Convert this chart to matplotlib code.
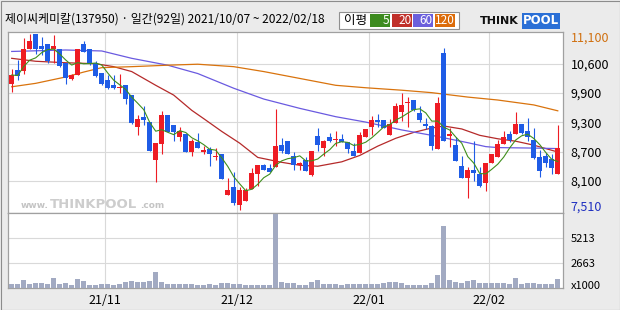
import numpy as np
import pandas as pd
import matplotlib
matplotlib.use('Agg')
import matplotlib.pyplot as plt
from matplotlib.patches import Rectangle

plt.rcParams['font.family'] = ['Noto Sans CJK KR', 'DejaVu Sans']

W, H = 620, 310

title = '제이씨케미칼(137950) · 일간(92일) 2021/10/07 ~ 2022/02/18'

# daily candles, 2021/10/07 .. 2022/02/18 (92 trading days)
opens = [10080, 10370, 10360, 10810, 11100, 10860, 10910, 10800, 10810, 10510,
         10190, 10280, 10910, 10810, 10510, 10310, 10170, 10060, 10000, 10060,
         9870, 9210, 9420, 9310, 8530, 8860, 9450, 9250, 9010, 9060,
         8700, 8900, 8710, 8770, 8600, 8650, 7830, 7990, 7630, 7700,
         7940, 8260, 8430, 8380, 8390, 8850, 8920, 8610, 8430, 8530,
         8230, 9020, 8790, 9000, 8950, 8960, 8900, 8720, 8670, 9010,
         9200, 9360, 9350, 9040, 9300, 9520, 9700, 9760, 9500, 9280,
         9230, 8770, 10720, 9020, 8850, 8410, 8180, 8330, 8260, 8070,
         8480, 8600, 8860, 9060, 9060, 9280, 9120, 8950, 8600, 8610,
         8550, 8250]
highs = [10400, 10570, 11020, 11100, 11100, 11050, 10910, 11080, 10810, 10510,
         10300, 10810, 10960, 10810, 10550, 10310, 10270, 10270, 10300, 10060,
         9870, 9450, 9640, 9310, 8880, 9530, 9450, 9250, 9210, 9060,
         8970, 9090, 8820, 8800, 8790, 8650, 8170, 8290, 7990, 7970,
         8380, 8440, 8460, 8460, 9570, 8980, 8920, 8700, 8500, 8590,
         8730, 9190, 8950, 9080, 9120, 9060, 8900, 8890, 9110, 9170,
         9430, 9470, 9360, 9380, 9700, 9910, 9820, 9760, 9630, 9400,
         9250, 9820, 10820, 9180, 9000, 8610, 8390, 8920, 8390, 8480,
         8650, 8940, 9130, 9120, 9510, 9280, 9400, 9180, 8740, 8690,
         8650, 9250]
lows = [9930, 10170, 10300, 10810, 10690, 10680, 10510, 10510, 10440, 10080,
        10170, 10280, 10740, 10470, 10230, 10060, 9980, 9980, 9910, 9680,
        9280, 9040, 9250, 8720, 8090, 8650, 9110, 8930, 8930, 8700,
        8610, 8790, 8650, 8420, 8530, 8140, 7830, 7610, 7510, 7700,
        7940, 8000, 8330, 8290, 8390, 8670, 8650, 8330, 8330, 8310,
        8210, 8730, 8620, 8900, 8820, 8900, 8670, 8620, 8670, 9010,
        9040, 9210, 9180, 9040, 9300, 9330, 9200, 9540, 9310, 9160,
        8750, 8770, 8930, 8800, 8520, 8180, 7770, 8110, 7990, 7900,
        8480, 8600, 8860, 8900, 9060, 9060, 8930, 8550, 8190, 8390,
        8250, 8250]
closes = [10270, 10250, 10810, 10960, 10810, 10800, 10560, 10860, 10460, 10200,
          10280, 10810, 10740, 10490, 10250, 10080, 10000, 10000, 10020, 9780,
          9290, 9380, 9350, 8720, 8880, 9450, 9110, 9110, 9120, 8700,
          8920, 8790, 8720, 8650, 8610, 8140, 7920, 7660, 7920, 7920,
          8280, 8430, 8330, 8290, 8820, 8730, 8650, 8430, 8480, 8310,
          8730, 8840, 8930, 8930, 8950, 8900, 8770, 8620, 9040, 9170,
          9350, 9310, 9190, 9270, 9640, 9660, 9700, 9550, 9350, 9230,
          8820, 9700, 8930, 9060, 8520, 8180, 8340, 8270, 8000, 8480,
          8650, 8860, 9000, 8940, 9280, 9080, 9010, 8570, 8310, 8480,
          8380, 8790]
# volume, x1000 shares
volumes = [420, 420, 840, 420, 520, 520, 420, 1050, 420, 520,
           310, 940, 730, 310, 310, 420, 420, 310, 420, 590,
           730, 660, 590, 730, 1670, 630, 420, 420, 420, 420,
           420, 310, 310, 420, 310, 520, 520, 420, 420, 310,
           310, 310, 310, 310, 7730, 630, 520, 520, 310, 310,
           660, 840, 420, 420, 420, 310, 420, 420, 420, 420,
           420, 420, 520, 630, 630, 520, 310, 310, 310, 310,
           520, 1360, 6480, 840, 630, 520, 730, 840, 520, 520,
           520, 520, 520, 420, 1050, 420, 520, 520, 420, 420,
           420, 940]

# moving averages
ma20_idx = [0, 4, 9, 14, 17, 20, 24, 27, 30, 32, 35, 38, 41, 43, 45, 48, 51, 55,
            58, 61, 64, 67, 70, 72, 75, 78, 81, 84, 87, 91]
ma20_val = [10610, 10550, 10520, 10500, 10440, 10340, 10060, 9860, 9550, 9380,
            9120, 8880, 8590, 8540, 8490, 8430, 8410, 8500, 8630, 8820,
            8980, 9100, 9190, 9230, 9170, 9040, 8970, 8920, 8840, 8700]
ma60_idx = [0, 9, 15, 20, 26, 31, 37, 42, 48, 54, 59, 65, 70, 76, 79, 81, 87, 91]
ma60_val = [10750, 10780, 10760, 10610, 10470, 10300, 10000, 9780, 9590, 9420,
            9310, 9150, 9040, 8890, 8810, 8790, 8780, 8770]
ma120_idx = [0, 4, 9, 12, 15, 20, 26, 31, 37, 42, 48, 54, 59, 65, 70, 76, 81, 87, 91]
ma120_val = [10030, 10100, 10230, 10330, 10420, 10440, 10470, 10490, 10440, 10340,
             10200, 10060, 10010, 9960, 9910, 9820, 9760, 9660, 9540]

month_starts = [16, 38, 60, 80]
month_labels = ['21/11', '21/12', '22/01', '22/02']
price_ticks = [8108, 8707, 9305, 9903, 10502]
price_labels = ['8,100', '8,700', '9,300', '9,900', '10,600']
vol_ticks = [2663, 5213]
vol_labels = ['2663', '5213']

legend_labels = ['5', '20', '60', '120']
legend_colors = ['#3d8b1f', '#c0302a', '#6b5fdc', '#dc6c0a']
ma_colors = ['#3f8f1c', '#b52a2a', '#6a5ae0', '#d9730d']
up_col = '#ee1c24'
dn_col = '#1f5ce6'
grid_col = '#d9d9d9'
frame_col = '#a0a0a0'

n = len(closes)
x = np.arange(n)
ma5 = pd.Series(closes).rolling(5, min_periods=1).mean()


def px_rect(x0, y0, x1, y1):
    return [x0 / W, 1 - y1 / H, (x1 - x0) / W, (y1 - y0) / H]


fig = plt.figure(figsize=(W / 100, H / 100), dpi=100, facecolor='#ebebeb')
fig.patches.append(Rectangle((0.5 / W, 0.5 / H), 1 - 1 / W, 1 - 1 / H, transform=fig.transFigure,
                             fill=False, ec='#8c8c8c', lw=0.8))

ax = fig.add_axes(px_rect(7.5, 32, 563, 212.5))
vax = fig.add_axes(px_rect(7.5, 212.5, 563, 288), sharex=ax)

# candles
for i in range(n):
    o, h, l, c = opens[i], highs[i], lows[i], closes[i]
    col = up_col if c >= o else dn_col
    ax.vlines(i, l, h, color=col, lw=0.8, zorder=3)
    ax.bar(i, max(abs(c - o), 22), bottom=min(o, c), width=0.8, color=col, lw=0, zorder=3)

ax.plot(x, ma5, color=ma_colors[0], lw=0.8, zorder=4)
ax.plot(ma20_idx, ma20_val, color=ma_colors[1], lw=0.9, zorder=2)
ax.plot(ma60_idx, ma60_val, color=ma_colors[2], lw=0.9, zorder=2)
ax.plot(ma120_idx, ma120_val, color=ma_colors[3], lw=0.9, zorder=2)

lo, hi = min(lows), max(highs)
span = hi - lo
ax.set_ylim(lo - 0.012 * span, hi + 0.013 * span)
ax.set_xlim(-0.7, n - 0.13)

ax.set_yticks(price_ticks)
ax.set_yticklabels(price_labels)
ax.yaxis.tick_right()
ax.tick_params(axis='y', length=0, pad=5.5, labelsize=9)
ax.tick_params(axis='x', length=0, labelbottom=False)
ax.set_xticks([m - 0.5 for m in month_starts])
ax.grid(True, color=grid_col, lw=0.8, zorder=0)

ax.annotate(f'{hi:,}', xy=(1, hi), xycoords=('axes fraction', 'data'), xytext=(7.5, -4),
            textcoords='offset pixels', ha='left', va='center', fontsize=9, color='#d07010')
ax.annotate(f'{lo:,}', xy=(1, lo), xycoords=('axes fraction', 'data'), xytext=(7.5, 3),
            textcoords='offset pixels', ha='left', va='center', fontsize=9, color='#1f2fc0')

# watermark
fig.text(21 / W, 1 - 206 / H, 'www.', fontsize=6.5, color='#c4c4c4', va='center', fontweight='bold',
         family='DejaVu Sans')
fig.text(50 / W, 1 - 204 / H, 'THINKPOOL', fontsize=9.5, color='#cdcdcd', va='center', fontweight='bold',
         family='DejaVu Sans')
fig.text(140 / W, 1 - 206 / H, '.com', fontsize=6.5, color='#c4c4c4', va='center', fontweight='bold',
         family='DejaVu Sans')

# volume
vax.bar(x, volumes, width=0.82, color='#a2aac2', lw=0, zorder=3)
vax.set_ylim(0, 7890)
vax.set_yticks(vol_ticks)
vax.set_yticklabels(vol_labels)
vax.yaxis.tick_right()
vax.tick_params(axis='y', length=0, pad=5.5, labelsize=8)
vax.set_xticks([m - 0.5 for m in month_starts])
vax.set_xticklabels(month_labels)
vax.tick_params(axis='x', length=0, pad=4, labelsize=9)
vax.grid(True, color=grid_col, lw=0.8, zorder=0)
vax.annotate('x1000', xy=(1, 0), xycoords='axes fraction', xytext=(7.5, 2),
             textcoords='offset pixels', ha='left', va='center', fontsize=8)

for a in (ax, vax):
    a.set_facecolor('white')
    for s in a.spines.values():
        s.set_color(frame_col)
        s.set_linewidth(0.9)

# header
fig.text(5 / W, 1 - 19 / H, title, fontsize=8.6, va='center', ha='left')
fig.patches.append(Rectangle((339 / W, 1 - 28.5 / H), 120 / W, 16 / H, transform=fig.transFigure,
                             fc='white', ec='#909090', lw=0.8))
fig.text(344 / W, 1 - 20.5 / H, '이평', fontsize=9, va='center', ha='left')
box_x = [370, 392, 413, 435]
for bx, lab, col in zip(box_x, legend_labels, legend_colors):
    fig.patches.append(Rectangle((bx / W, 1 - 26.7 / H), 20 / W, 12.4 / H, transform=fig.transFigure,
                                 fc=col, ec='none'))
    fig.text((bx + 19.5) / W, 1 - 20.5 / H, lab, fontsize=8.5, color='white', va='center', ha='right')

fig.text(480 / W, 1 - 21 / H, 'THINK', fontsize=8, fontweight='bold', color='#111111',
         va='center', ha='left', family='DejaVu Sans')
fig.text(523 / W, 1 - 21 / H, 'POOL', fontsize=8.5, fontweight='bold', color='white',
         va='center', ha='left', family='DejaVu Sans',
         bbox=dict(boxstyle='square,pad=0.1', fc='#2a6fd6', ec='none'))

fig.savefig('out.png', dpi=100, facecolor=fig.get_facecolor())
